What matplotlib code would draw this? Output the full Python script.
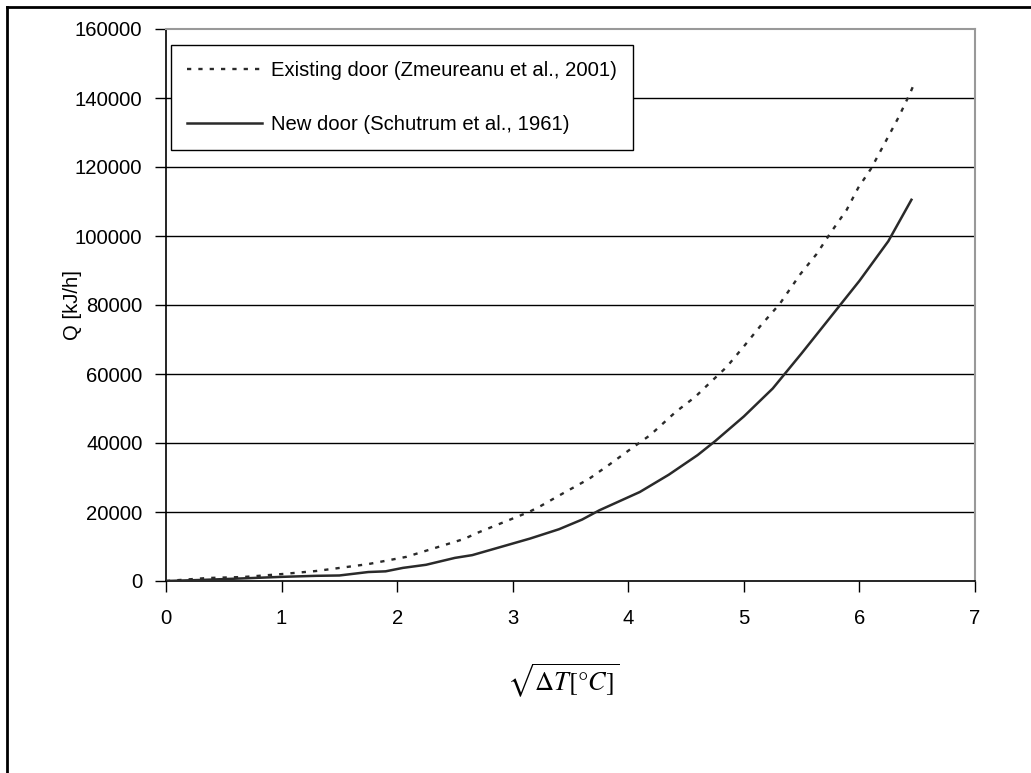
import matplotlib
matplotlib.use("Agg")
import matplotlib.pyplot as plt
from matplotlib.lines import Line2D

plt.rcParams['font.family'] = ['Liberation Sans', 'DejaVu Sans']
plt.rcParams['mathtext.fontset'] = 'stix'

# Data
existing_x = [0, 0.36, 0.67, 1.0, 1.3, 1.55, 1.75, 2.08, 2.58, 2.69, 3.14, 3.24, 3.44,
              3.66, 3.83, 4.01, 4.19, 4.41, 4.58, 4.67, 4.85, 5.0, 5.15, 5.31, 5.49,
              5.63, 5.75, 5.89, 5.99, 6.1, 6.23, 6.34, 6.44, 6.48]
existing_q = [0, 870, 1160, 2000, 2900, 4000, 4900, 7000, 12200, 13900, 20000, 21700, 25500,
              29600, 33600, 38000, 42300, 49000, 53400, 56300, 62000, 68000, 74200, 80300, 89000,
              94800, 100900, 107600, 114000, 119500, 127600, 134500, 141500, 144700]

new_x = [0, 0.3, 0.7, 1.0, 1.3, 1.5, 1.75, 1.9, 2.05, 2.25, 2.5, 2.65, 2.9, 3.15, 3.4,
         3.6, 3.75, 4.1, 4.35, 4.6, 4.75, 5.0, 5.25, 5.5, 5.75, 6.0, 6.25, 6.45]
new_q = [0, 300, 800, 1200, 1500, 1600, 2600, 2800, 3800, 4700, 6700, 7500, 9900, 12300, 15000,
         17800, 20500, 25800, 30800, 36500, 40500, 47700, 55800, 66000, 76500, 87000, 98500, 110500]

labels = ["Existing door (Zmeureanu et al., 2001)", "New door (Schutrum et al., 1961)"]
xticks = [0, 1, 2, 3, 4, 5, 6, 7]
yticks = [0, 20000, 40000, 60000, 80000, 100000, 120000, 140000, 160000]

FS = 14.6
W, H = 1031, 773
fig = plt.figure(figsize=(W / 100, H / 100), dpi=100)
L, R, T, B = 166, 975, 29, 581
ax = fig.add_axes([L / W, 1 - B / H, (R - L) / W, (B - T) / H])

ax.plot(existing_x, existing_q, color='#2a2a2a', lw=1.7, linestyle=(0, (1.8, 3.0)),
        label=labels[0], zorder=3)
ax.plot(new_x, new_q, color='#2a2a2a', lw=1.8, label=labels[1], zorder=3)

ax.set_xlim(0, 7)
ax.set_ylim(0, 160000)
ax.set_xticks(xticks)
ax.set_yticks(yticks)
ax.set_xticklabels([str(v) for v in xticks], fontsize=FS)
ax.set_yticklabels([str(v) for v in yticks], fontsize=FS)
ax.tick_params(axis='both', direction='out', length=8, width=1, color='black')
ax.tick_params(axis='x', pad=12)
ax.tick_params(axis='y', pad=9)

for y in yticks[1:-1]:
    ax.axhline(y, color='black', lw=1.0, zorder=1)

ax.spines['left'].set_color('black')
ax.spines['bottom'].set_color('black')
ax.spines['left'].set_linewidth(1.2)
ax.spines['bottom'].set_linewidth(1.2)
ax.spines['top'].set_color('#999999')
ax.spines['right'].set_color('#999999')
ax.spines['top'].set_linewidth(1.5)
ax.spines['right'].set_linewidth(1.5)

ax.set_ylabel("Q [kJ/h]", fontsize=FS)
ax.yaxis.set_label_coords(-(L - 82) / (R - L), 0.5)
ax.set_xlabel(r"$\sqrt{\Delta T[\degree C]}$", fontsize=19)
ax.xaxis.set_label_coords((563 - L) / (R - L), -(662 - B) / (B - T))

leg = ax.legend(loc='upper left', bbox_to_anchor=((171 - L) / (R - L), 1 - (45 - T) / (B - T)),
                borderaxespad=0, frameon=True, fancybox=False, shadow=False,
                fontsize=FS, handlelength=3.7, handletextpad=0.45, borderpad=0.8,
                labelspacing=1.7)
leg.get_frame().set_edgecolor('black')
leg.get_frame().set_linewidth(1.0)
leg.get_frame().set_alpha(1)

# outer chart border (left and top visible)
fig.add_artist(Line2D([7 / W, 7 / W], [0, 1 - 7 / H], color='black', lw=2, transform=fig.transFigure))
fig.add_artist(Line2D([7 / W, 1], [1 - 7 / H, 1 - 7 / H], color='black', lw=2, transform=fig.transFigure))

fig.savefig("out.png", dpi=100)
